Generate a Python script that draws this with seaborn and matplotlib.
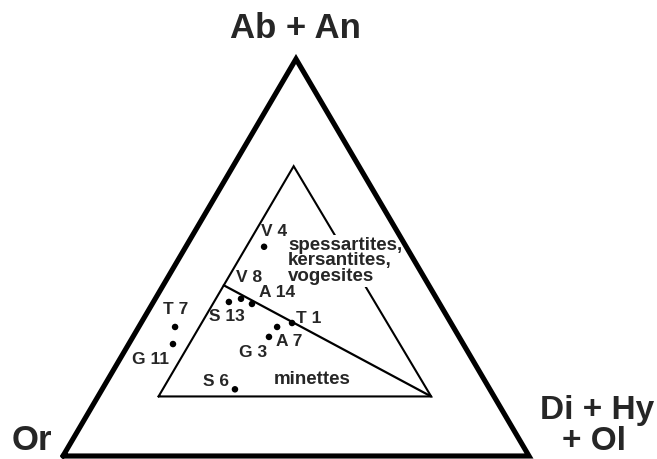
import numpy as np
import pandas as pd
import matplotlib
matplotlib.use("Agg")
import matplotlib.pyplot as plt
import seaborn as sns

# Ternary data in percent: Or, Di+Hy+Ol, Ab+An
labels = ["V 4", "V 8", "S 13", "A 14", "T 1", "G 3", "A 7", "T 7", "G 11", "S 6"]
or_pct = [30.5, 42.0, 45.0, 40.3, 34.1, 37.8, 40.8, 59.7, 62.3, 54.7]
mafic_pct = [16.8, 18.4, 16.2, 21.4, 32.4, 29.7, 29.2, 7.8, 9.5, 28.5]
felsic_pct = [52.7, 39.6, 38.8, 38.3, 33.5, 32.5, 30.0, 32.5, 28.2, 16.8]

# label offsets from the dot (pixels)
label_dx = [10, 8, -2, 25, 17, -24, 20, 1, -22, -19]
label_dy = [15, 21, -15, 11, 5, -26, -5, 17, -15, 8]

# field boundaries (Or, Di+Hy+Ol, Ab+An)
outer_tri = [(100, 0, 0), (0, 100, 0), (0, 0, 100)]
inner_tri = [(72, 13, 15), (13.5, 71.5, 15), (14, 13, 73)]
divider = [(44, 13, 43), (13.5, 71.5, 15)]

field_names = ["spessartites,\nkersantites,\nvogesites", "minettes"]
corner_names = ["Or", "Di + Hy", "+ Ol", "Ab + An"]

H = np.sqrt(3) / 2


def to_xy(a, b, c):
    a, b, c = np.asarray(a, float), np.asarray(b, float), np.asarray(c, float)
    s = a + b + c
    b, c = b / s, c / s
    return b + c / 2, c * H


sns.set_theme(style="white")
plt.rcParams["font.family"] = ["Liberation Sans", "DejaVu Sans"]

fig = plt.figure(figsize=(6.57, 4.59), dpi=100)
ax = fig.add_axes([0, 0, 1, 1])
ax.set_xlim(-0.1352, 1.2747)
ax.set_ylim(-0.00654, 0.9947)
ax.axis("off")

# outer triangle
pts = outer_tri + [outer_tri[0]]
x, y = to_xy(*zip(*pts))
ax.plot(x, y, color="black", lw=3.7, solid_joinstyle="miter", zorder=4)

# inner triangle and divider
pts = inner_tri + [inner_tri[0]]
x, y = to_xy(*zip(*pts))
ax.plot(x, y, color="black", lw=1.5, solid_joinstyle="miter", zorder=2)
x, y = to_xy(*zip(*divider))
ax.plot(x, y, color="black", lw=1.6, zorder=2)

# samples
px, py = to_xy(or_pct, mafic_pct, felsic_pct)
df = pd.DataFrame({"x": px, "y": py, "label": labels})
sns.scatterplot(data=df, x="x", y="y", ax=ax, color="black", s=22,
                edgecolor="none", zorder=5, legend=False)
for i, row in df.iterrows():
    ax.annotate(row["label"], (row["x"], row["y"]),
                xytext=(label_dx[i], label_dy[i]), textcoords="offset pixels",
                ha="center", va="center", fontsize=12.5, fontweight="bold",
                zorder=5)

# field names
ax.text(288, 459 - 261, field_names[0], transform=None, ha="left",
        va="center", fontsize=13.5, fontweight="bold", linespacing=0.92,
        zorder=3, bbox=dict(facecolor="white", edgecolor="none", pad=1))
ax.text(312, 459 - 380, field_names[1], transform=None, ha="center",
        va="center", fontsize=13.5, fontweight="bold", zorder=3)

# corner labels
ax.text(32, 459 - 441, corner_names[0], transform=None, ha="center",
        va="center", fontsize=25, fontweight="bold")
ax.text(654, 459 - 411, corner_names[1], transform=None, ha="right",
        va="center", fontsize=24, fontweight="bold")
ax.text(594, 459 - 441, corner_names[2], transform=None, ha="center",
        va="center", fontsize=24, fontweight="bold")
ax.text(295, 459 - 29, corner_names[3], transform=None, ha="center",
        va="center", fontsize=25, fontweight="bold")

fig.savefig("out.png", dpi=100, facecolor="white")
plt.close(fig)
